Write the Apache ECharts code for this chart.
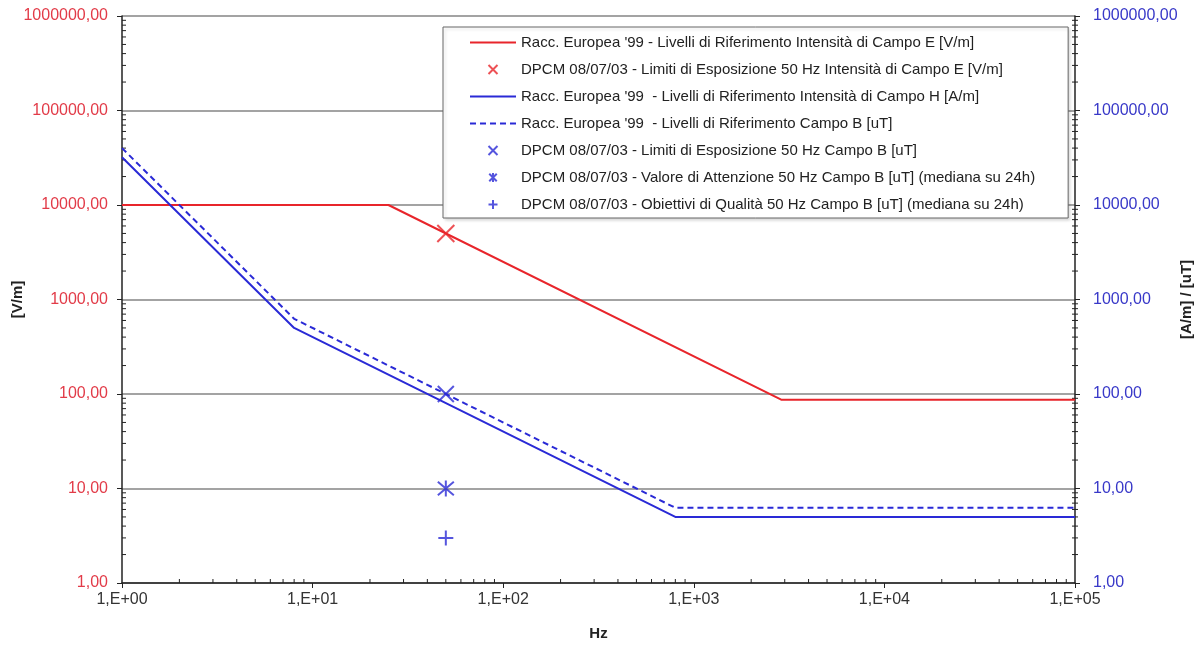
<!DOCTYPE html>
<html>
<head>
<meta charset="utf-8">
<title>Limiti campi elettromagnetici</title>
<script src="https://cdn.jsdelivr.net/npm/echarts@6/dist/echarts.min.js"></script>
<style>
  html, body { margin: 0; padding: 0; background: #fff; }
  #chart { width: 1194px; height: 646px; }
</style>
</head>
<body>
<div id="chart"></div>
<script>
// reference levels (Hz, value)
const campoE = [[1, 10000], [25, 10000], [2874, 87], [100000, 87]];
const campoH = [[1, 32000], [8, 500], [800, 5], [100000, 5]];
const campoB = [[1, 40000], [8, 625], [800, 6.25], [100000, 6.25]];
// DPCM 08/07/03 at 50 Hz
const limiteE = [[50, 5000]];
const limiteB = [[50, 100]];
const attenzioneB = [[50, 10]];
const qualitaB = [[50, 3]];

const legendNames = [
  "Racc. Europea '99 - Livelli di Riferimento Intensità di Campo E [V/m]",
  "DPCM 08/07/03 - Limiti di Esposizione 50 Hz Intensità di Campo E [V/m]",
  "Racc. Europea '99  - Livelli di Riferimento Intensità di Campo H [A/m]",
  "Racc. Europea '99  - Livelli di Riferimento Campo B [uT]",
  "DPCM 08/07/03 - Limiti di Esposizione 50 Hz Campo B [uT]",
  "DPCM 08/07/03 - Valore di Attenzione 50 Hz Campo B [uT] (mediana su 24h)",
  "DPCM 08/07/03 - Obiettivi di Qualità 50 Hz Campo B [uT] (mediana su 24h)"
];

const RED = '#e8252b';
const BLUE = '#2a2ad6';
const FONT = "'Liberation Sans', Arial, sans-serif";

// log minor ticks (2..9 in every decade)
function minorValues(decades) {
  const out = [];
  for (let k = 0; k < decades; k++) {
    for (let m = 2; m <= 9; m++) out.push(m * Math.pow(10, k));
  }
  return out;
}
const xMinor = minorValues(5);
const yMinor = minorValues(6);

const X_SYM = 'path://M0,0L10,10M10,0L0,10';
const STAR_SYM = 'path://M0,0L10,10M10,0L0,10M5,-1L5,11';
const PLUS_SYM = 'path://M5,0L5,10M0,5L10,5';

const myEchart = echarts.init(document.getElementById('chart'));

function tickSeries(values, kind) {
  return {
    type: 'custom',
    silent: true,
    z: 1,
    data: values.map(v => kind === 'x' ? [v, 1] : [kind === 'left' ? 1 : 100000, v]),
    renderItem: function (params, api) {
      const p = api.coord([api.value(0), api.value(1)]);
      let shape;
      if (kind === 'x') shape = { x1: p[0], y1: p[1], x2: p[0], y2: p[1] - 4 };
      else if (kind === 'left') shape = { x1: p[0], y1: p[1], x2: p[0] + 4, y2: p[1] };
      else shape = { x1: p[0] - 3, y1: p[1], x2: p[0] + 3, y2: p[1] };
      return { type: 'line', shape: shape, style: { stroke: '#222', lineWidth: 1 } };
    }
  };
}

// line series: hide the legend's circle marker, keep the line
const noMarker = { color: 'transparent', borderColor: 'transparent', borderWidth: 0 };
const marker = c => ({ color: 'transparent', borderColor: c, borderWidth: 2 });

const option = {
  animation: false,
  textStyle: { fontFamily: FONT },
  grid: { left: 122, right: 119, top: 16, bottom: 63, containLabel: false, outerBoundsMode: 'none' },
  legend: {
    left: 443,
    top: 27,
    orient: 'vertical',
    backgroundColor: '#fff',
    borderColor: '#666',
    borderWidth: 1,
    shadowColor: 'rgba(0,0,0,0.15)',
    shadowBlur: 3,
    shadowOffsetX: 2,
    shadowOffsetY: 2,
    padding: [8, 33, 6, 26],
    itemGap: 12,
    itemWidth: 46,
    itemHeight: 9,
    itemTextGap: 4,
    textStyle: { fontSize: 15, color: '#222', fontFamily: FONT },
    data: legendNames
  },
  xAxis: {
    type: 'log',
    min: 1,
    max: 100000,
    name: 'Hz',
    nameLocation: 'middle',
    nameGap: 43,
    nameMoveOverlap: false,
    nameTextStyle: { fontWeight: 'bold', fontSize: 15, color: '#222' },
    axisLine: { lineStyle: { color: '#222', width: 1.5 } },
    axisTick: { length: 5, lineStyle: { color: '#222' } },
    splitLine: { show: false },
    axisLabel: {
      color: '#333',
      fontSize: 16,
      margin: 9,
      formatter: v => '1,E+' + String(Math.round(Math.log10(v))).padStart(2, '0')
    }
  },
  yAxis: [
    {
      type: 'log',
      min: 1,
      max: 1000000,
      position: 'left',
      name: '[V/m]',
      nameLocation: 'middle',
      nameRotate: 90,
      nameGap: 97,
      nameMoveOverlap: false,
      nameTextStyle: { fontWeight: 'bold', fontSize: 15, color: '#222' },
      axisLine: { show: true, lineStyle: { color: '#222', width: 1.5 } },
      axisTick: { length: 5, lineStyle: { color: '#222' } },
      splitLine: { show: true, lineStyle: { color: '#858585', width: 1.5 } },
      axisLabel: {
        color: '#e23b48',
        fontSize: 16,
        margin: 14,
        formatter: v => v.toFixed(2).replace('.', ',')
      }
    },
    {
      type: 'log',
      min: 1,
      max: 1000000,
      position: 'right',
      name: '[A/m] / [uT]',
      nameLocation: 'middle',
      nameRotate: 90,
      nameGap: 104,
      nameMoveOverlap: false,
      nameTextStyle: { fontWeight: 'bold', fontSize: 15, color: '#222' },
      axisLine: { show: true, lineStyle: { color: '#222', width: 1.5 } },
      axisTick: { length: 5, lineStyle: { color: '#222' } },
      splitLine: { show: false },
      axisLabel: {
        color: '#3838c8',
        fontSize: 16,
        margin: 18,
        formatter: v => v.toFixed(2).replace('.', ',')
      }
    }
  ],
  series: [
    {
      name: legendNames[0],
      type: 'line',
      yAxisIndex: 0,
      symbol: 'none',
      color: RED,
      itemStyle: noMarker,
      lineStyle: { color: RED, width: 2 },
      data: campoE,
      z: 3
    },
    {
      name: legendNames[1],
      type: 'scatter',
      yAxisIndex: 0,
      symbol: X_SYM,
      symbolSize: 17,
      color: RED,
      itemStyle: marker(RED),
      data: limiteE,
      z: 4
    },
    {
      name: legendNames[2],
      type: 'line',
      yAxisIndex: 1,
      symbol: 'none',
      color: BLUE,
      itemStyle: noMarker,
      lineStyle: { color: BLUE, width: 2 },
      data: campoH,
      z: 3
    },
    {
      name: legendNames[3],
      type: 'line',
      yAxisIndex: 1,
      symbol: 'none',
      color: BLUE,
      itemStyle: noMarker,
      lineStyle: { color: BLUE, width: 2, type: [6, 4] },
      data: campoB,
      z: 3
    },
    {
      name: legendNames[4],
      type: 'scatter',
      yAxisIndex: 1,
      symbol: X_SYM,
      symbolSize: 16,
      color: BLUE,
      itemStyle: marker(BLUE),
      data: limiteB,
      z: 4
    },
    {
      name: legendNames[5],
      type: 'scatter',
      yAxisIndex: 1,
      symbol: STAR_SYM,
      symbolSize: 16,
      color: BLUE,
      itemStyle: marker(BLUE),
      data: attenzioneB,
      z: 4
    },
    {
      name: legendNames[6],
      type: 'scatter',
      yAxisIndex: 1,
      symbol: PLUS_SYM,
      symbolSize: 15,
      color: BLUE,
      itemStyle: marker(BLUE),
      data: qualitaB,
      z: 4
    },
    Object.assign(tickSeries(xMinor, 'x'), { yAxisIndex: 0 }),
    Object.assign(tickSeries(yMinor, 'left'), { yAxisIndex: 0 }),
    Object.assign(tickSeries(yMinor, 'right'), { yAxisIndex: 1 })
  ]
};

myEchart.setOption(option);
</script>
</body>
</html>
